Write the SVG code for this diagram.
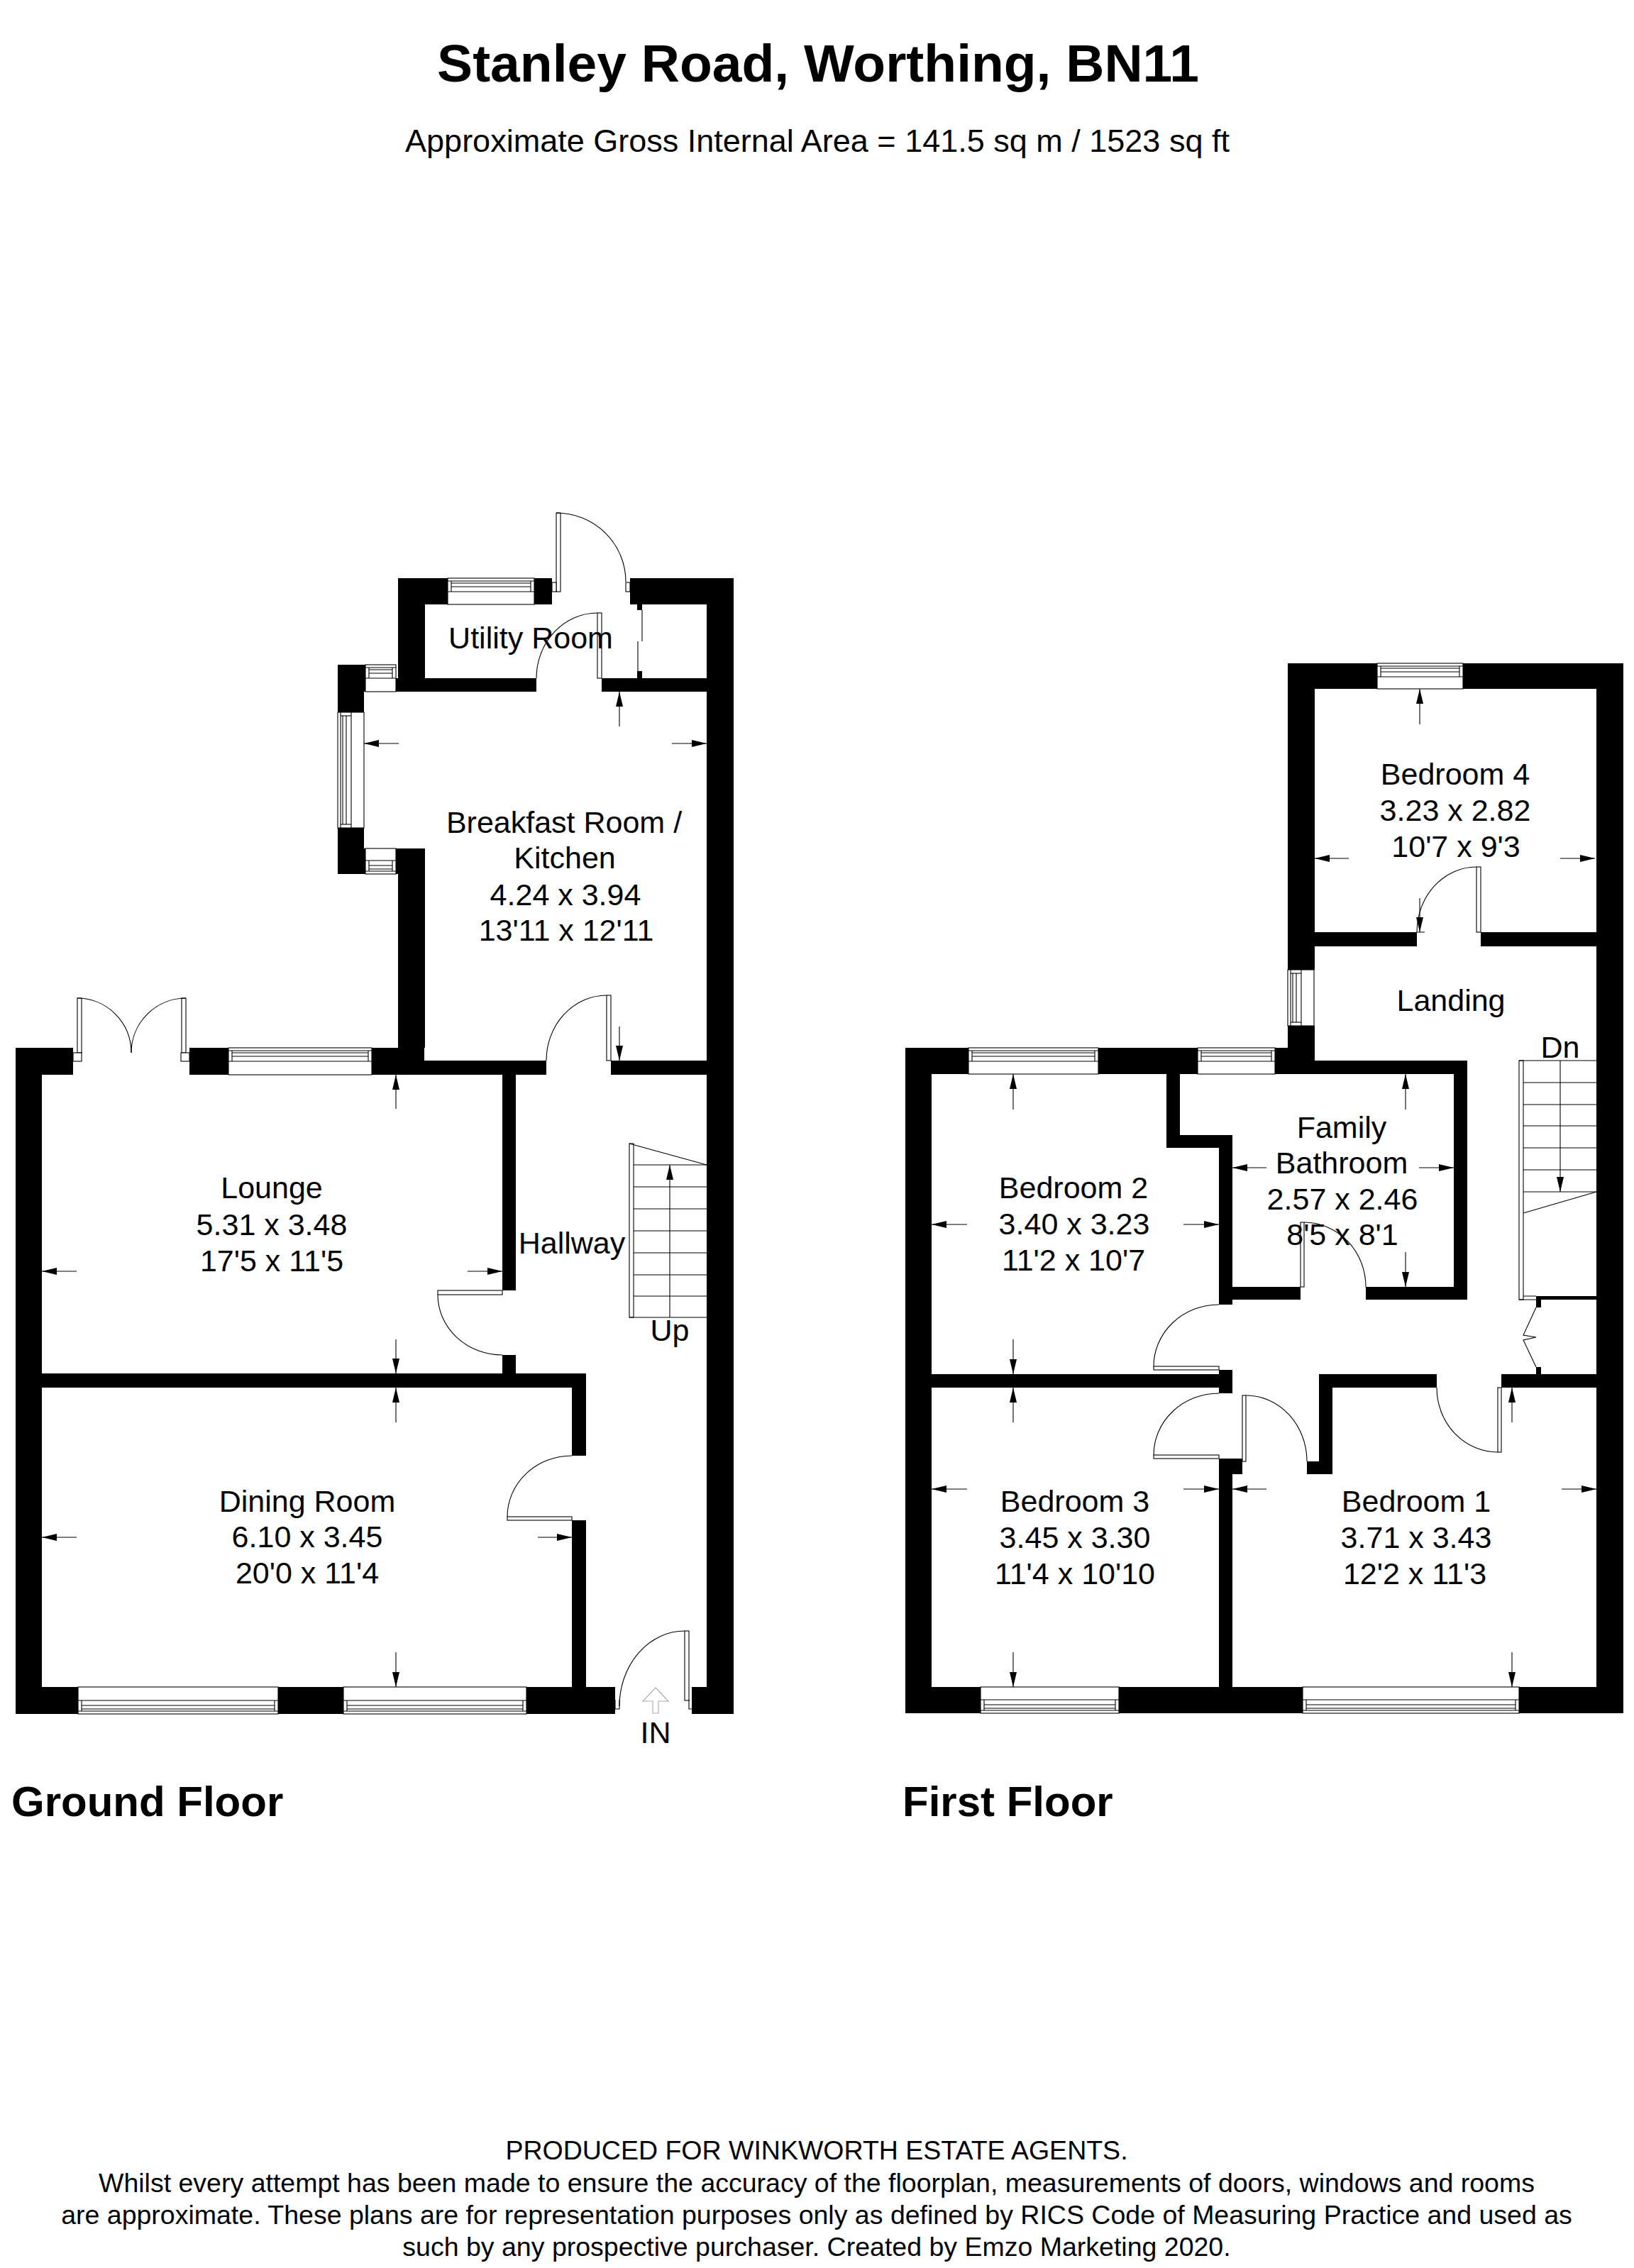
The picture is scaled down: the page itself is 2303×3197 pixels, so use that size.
<svg xmlns="http://www.w3.org/2000/svg" width="2303" height="3197" viewBox="0 0 2303 3197">
<style>
text{font-family:"Liberation Sans",Arial,sans-serif;fill:#000}
.r{font-size:43px;text-anchor:middle}
.f{font-size:37.5px;text-anchor:middle}
.h{font-size:60px;font-weight:bold}
.w rect{fill:#000}
.d rect,.win rect{fill:#fff;stroke:#000;stroke-width:1.1}
.d path{fill:none;stroke:#000;stroke-width:1.1}
.win line,.s line,.s path{stroke:#000;stroke-width:1.1;fill:none}
.s rect{fill:#fff;stroke:#000;stroke-width:1.1}
.dim line{stroke:#000;stroke-width:1.1;marker-end:url(#tip)}
</style>
<defs>
<marker id="tip" markerUnits="userSpaceOnUse" viewBox="0 0 21 10" refX="21" refY="5" markerWidth="21" markerHeight="10" orient="auto"><path d="M0 0L21 5L0 10Z" fill="#000"/></marker>
</defs>
<rect width="2303" height="3197" fill="#fff"/>
<text id="title" x="1153" y="115" text-anchor="middle" style="font-size:75px;font-weight:bold">Stanley Road, Worthing, BN11</text>
<text id="subtitle" x="1152" y="214" text-anchor="middle" style="font-size:45px">Approximate Gross Internal Area = 141.5 sq m / 1523 sq ft</text>

<g id="ground-walls" class="w">
<rect x="561" y="815" width="70" height="37"/><rect x="753" y="815" width="25" height="37"/><rect x="888" y="815" width="146" height="37"/>
<rect x="561" y="815" width="38" height="141"/><rect x="558" y="956" width="198" height="19"/><rect x="848" y="956" width="186" height="19"/>
<rect x="996" y="815" width="38" height="1601"/>
<rect x="898" y="852" width="7" height="8"/><rect x="898" y="946" width="7" height="10"/>
<rect x="476" y="937" width="39" height="38"/><rect x="476" y="975" width="37" height="29"/><rect x="476" y="1167" width="37" height="29"/><rect x="476" y="1196" width="39" height="36"/>
<rect x="558" y="1196" width="41" height="36"/><rect x="561" y="1232" width="38" height="245"/>
<rect x="524" y="1477" width="74" height="38"/><rect x="598" y="1495" width="172" height="20"/><rect x="861" y="1495" width="135" height="20"/>
<rect x="22" y="1477" width="81" height="38"/><rect x="267" y="1477" width="55" height="38"/><rect x="22" y="1477" width="37" height="939"/>
<rect x="708" y="1515" width="19" height="304"/><rect x="708" y="1910" width="19" height="26"/>
<rect x="22" y="1936" width="804" height="20"/><rect x="806" y="1956" width="20" height="96"/><rect x="806" y="2143" width="20" height="235"/>
<rect x="22" y="2378" width="88" height="38"/><rect x="392" y="2378" width="92" height="38"/><rect x="742" y="2378" width="125" height="38"/><rect x="975" y="2378" width="59" height="38"/>
</g>

<g id="ground-windows" class="win">
<g><rect x="631" y="815" width="122" height="37"/><line x1="631" y1="819" x2="753" y2="819"/><line x1="631" y1="834" x2="753" y2="834"/><line x1="636" y1="822" x2="748" y2="822"/><line x1="636" y1="827" x2="748" y2="827"/><line x1="636" y1="819" x2="636" y2="834"/><line x1="748" y1="819" x2="748" y2="834"/></g>
<g><rect x="515" y="937" width="43" height="38"/><line x1="515" y1="941" x2="558" y2="941"/><line x1="515" y1="956" x2="558" y2="956"/><line x1="520" y1="944" x2="553" y2="944"/><line x1="520" y1="949" x2="553" y2="949"/><line x1="520" y1="941" x2="520" y2="956"/><line x1="553" y1="941" x2="553" y2="956"/></g>
<g><rect x="515" y="1196" width="43" height="36"/><line x1="515" y1="1228" x2="558" y2="1228"/><line x1="515" y1="1213" x2="558" y2="1213"/><line x1="520" y1="1225" x2="553" y2="1225"/><line x1="520" y1="1220" x2="553" y2="1220"/><line x1="520" y1="1213" x2="520" y2="1228"/><line x1="553" y1="1213" x2="553" y2="1228"/></g>
<g><rect x="476" y="1004" width="37" height="163"/><line x1="480" y1="1004" x2="480" y2="1167"/><line x1="495" y1="1004" x2="495" y2="1167"/><line x1="483" y1="1009" x2="483" y2="1162"/><line x1="488" y1="1009" x2="488" y2="1162"/><line x1="480" y1="1009" x2="495" y2="1009"/><line x1="480" y1="1162" x2="495" y2="1162"/></g>
<g><rect x="322" y="1477" width="202" height="38"/><line x1="322" y1="1481" x2="524" y2="1481"/><line x1="322" y1="1496" x2="524" y2="1496"/><line x1="327" y1="1484" x2="519" y2="1484"/><line x1="327" y1="1489" x2="519" y2="1489"/><line x1="327" y1="1481" x2="327" y2="1496"/><line x1="519" y1="1481" x2="519" y2="1496"/></g>
<g><rect x="110" y="2378" width="282" height="38"/><line x1="110" y1="2412" x2="392" y2="2412"/><line x1="110" y1="2397" x2="392" y2="2397"/><line x1="115" y1="2409" x2="387" y2="2409"/><line x1="115" y1="2404" x2="387" y2="2404"/><line x1="115" y1="2397" x2="115" y2="2412"/><line x1="387" y1="2397" x2="387" y2="2412"/></g>
<g><rect x="484" y="2378" width="258" height="38"/><line x1="484" y1="2412" x2="742" y2="2412"/><line x1="484" y1="2397" x2="742" y2="2397"/><line x1="489" y1="2409" x2="737" y2="2409"/><line x1="489" y1="2404" x2="737" y2="2404"/><line x1="489" y1="2397" x2="489" y2="2412"/><line x1="737" y1="2397" x2="737" y2="2412"/></g>
</g>

<g id="ground-doors" class="d">
<rect x="784" y="723" width="6" height="111"/><rect x="778" y="821" width="6" height="13"/><rect x="882" y="821" width="6" height="13"/><path d="M784 723A98 97 0 0 1 882 820"/>
<rect x="842" y="864" width="6" height="92"/><path d="M842 864A86 92 0 0 0 756 956"/>
<path d="M905 860V904M899 904V946"/>
<rect x="855" y="1403" width="6" height="92"/><path d="M855 1403A85 92 0 0 0 770 1495"/>
<rect x="109" y="1407" width="6" height="77"/><rect x="103" y="1484" width="12" height="12"/><path d="M109 1407A76 77 0 0 1 185 1484"/>
<rect x="256" y="1407" width="6" height="77"/><rect x="255" y="1484" width="12" height="12"/><path d="M262 1407A77 77 0 0 0 185 1484"/>
<rect x="617" y="1819" width="91" height="6"/><path d="M617 1825A91 85 0 0 0 708 1910"/>
<rect x="715" y="2138" width="91" height="5"/><path d="M715 2138A91 86 0 0 1 806 2052"/>
<rect x="965" y="2299" width="6" height="98"/><path d="M965 2299A92 106 0 0 0 873 2405"/><path d="M867 2396V2409H873V2396M971 2396V2409H975"/>
</g>

<g id="ground-stairs" class="s">
<rect x="887" y="1612" width="6" height="245"/>
<path d="M887 1612L996 1642"/>
<line x1="893" y1="1642" x2="996" y2="1642"/><line x1="893" y1="1673" x2="996" y2="1673"/><line x1="893" y1="1704" x2="996" y2="1704"/><line x1="893" y1="1735" x2="996" y2="1735"/><line x1="893" y1="1766" x2="996" y2="1766"/><line x1="893" y1="1797" x2="996" y2="1797"/><line x1="893" y1="1827" x2="996" y2="1827"/><line x1="887" y1="1857" x2="996" y2="1857"/>
</g>
<path id="entrance-arrow" d="M924 2379L942 2398H928V2415H920V2398H906Z" fill="#fff" stroke="#aaa" stroke-width="1.1"/>

<g id="first-walls" class="w">
<rect x="1276" y="1477" width="89" height="37"/><rect x="1548" y="1477" width="140" height="37"/><rect x="1797" y="1477" width="56" height="37"/>
<rect x="1853" y="1495" width="215" height="19"/><rect x="1276" y="1477" width="37" height="938"/>
<rect x="1644" y="1514" width="19" height="104"/><rect x="1644" y="1600" width="93" height="18"/><rect x="1718" y="1618" width="19" height="221"/>
<rect x="1737" y="1814" width="96" height="18"/><rect x="1925" y="1814" width="143" height="18"/><rect x="2049" y="1495" width="19" height="337"/>
<rect x="1718" y="1931" width="19" height="33"/><rect x="1276" y="1937" width="461" height="19"/>
<rect x="1718" y="2056" width="33" height="22"/><rect x="1718" y="2078" width="19" height="300"/>
<rect x="1842" y="2060" width="36" height="18"/><rect x="1859" y="1937" width="19" height="123"/><rect x="1859" y="1937" width="166" height="19"/><rect x="2116" y="1937" width="172" height="19"/>
<rect x="2250" y="935" width="38" height="1480"/><rect x="2165" y="1827" width="85" height="5"/><rect x="2165" y="1832" width="7" height="11"/><rect x="2165" y="1927" width="7" height="10"/>
<rect x="1276" y="2378" width="106" height="37"/><rect x="1577" y="2378" width="259" height="37"/><rect x="2141" y="2378" width="147" height="37"/>
<rect x="1815" y="935" width="126" height="36"/><rect x="2062" y="935" width="226" height="36"/><rect x="1815" y="935" width="38" height="432"/>
<rect x="1815" y="1314" width="182" height="20"/><rect x="2087" y="1314" width="201" height="20"/><rect x="1815" y="1446" width="38" height="49"/>
</g>

<g id="first-windows" class="win">
<g><rect x="1941" y="935" width="121" height="36"/><line x1="1941" y1="939" x2="2062" y2="939"/><line x1="1941" y1="954" x2="2062" y2="954"/><line x1="1946" y1="942" x2="2057" y2="942"/><line x1="1946" y1="947" x2="2057" y2="947"/><line x1="1946" y1="939" x2="1946" y2="954"/><line x1="2057" y1="939" x2="2057" y2="954"/></g>
<g><rect x="1815" y="1367" width="37" height="79"/><line x1="1819" y1="1367" x2="1819" y2="1446"/><line x1="1834" y1="1367" x2="1834" y2="1446"/><line x1="1822" y1="1372" x2="1822" y2="1441"/><line x1="1827" y1="1372" x2="1827" y2="1441"/><line x1="1819" y1="1372" x2="1834" y2="1372"/><line x1="1819" y1="1441" x2="1834" y2="1441"/></g>
<g><rect x="1365" y="1477" width="183" height="37"/><line x1="1365" y1="1481" x2="1548" y2="1481"/><line x1="1365" y1="1496" x2="1548" y2="1496"/><line x1="1370" y1="1484" x2="1543" y2="1484"/><line x1="1370" y1="1489" x2="1543" y2="1489"/><line x1="1370" y1="1481" x2="1370" y2="1496"/><line x1="1543" y1="1481" x2="1543" y2="1496"/></g>
<g><rect x="1688" y="1477" width="109" height="37"/><line x1="1688" y1="1481" x2="1797" y2="1481"/><line x1="1688" y1="1496" x2="1797" y2="1496"/><line x1="1693" y1="1484" x2="1792" y2="1484"/><line x1="1693" y1="1489" x2="1792" y2="1489"/><line x1="1693" y1="1481" x2="1693" y2="1496"/><line x1="1792" y1="1481" x2="1792" y2="1496"/></g>
<g><rect x="1382" y="2378" width="195" height="37"/><line x1="1382" y1="2411" x2="1577" y2="2411"/><line x1="1382" y1="2396" x2="1577" y2="2396"/><line x1="1387" y1="2408" x2="1572" y2="2408"/><line x1="1387" y1="2403" x2="1572" y2="2403"/><line x1="1387" y1="2396" x2="1387" y2="2411"/><line x1="1572" y1="2396" x2="1572" y2="2411"/></g>
<g><rect x="1836" y="2378" width="305" height="37"/><line x1="1836" y1="2411" x2="2141" y2="2411"/><line x1="1836" y1="2396" x2="2141" y2="2396"/><line x1="1841" y1="2408" x2="2136" y2="2408"/><line x1="1841" y1="2403" x2="2136" y2="2403"/><line x1="1841" y1="2396" x2="1841" y2="2411"/><line x1="2136" y1="2396" x2="2136" y2="2411"/></g>
</g>

<g id="first-doors" class="d">
<rect x="2081" y="1222" width="6" height="92"/><path d="M2081 1222A84 92 0 0 0 1997 1314H2008"/>
<rect x="1833" y="1723" width="5" height="91"/><path d="M1838 1723A87 91 0 0 1 1925 1814"/>
<rect x="1626" y="1926" width="92" height="5"/><path d="M1718 1839A92 87 0 0 0 1626 1926"/>
<rect x="1626" y="2051" width="92" height="5"/><path d="M1718 1964A92 87 0 0 0 1626 2051"/>
<rect x="1751" y="1967" width="5" height="93"/><path d="M1756 1967A86 93 0 0 1 1842 2060"/>
<rect x="2111" y="1956" width="5" height="91"/><path d="M2025 1956A86 91 0 0 0 2111 2047"/>
<path d="M2165 1843L2147 1882L2165 1885L2147 1889L2165 1927"/>
</g>

<g id="first-stairs" class="s">
<rect x="2141" y="1495" width="6" height="337"/>
<line x1="2141" y1="1495" x2="2250" y2="1495"/><line x1="2147" y1="1526" x2="2250" y2="1526"/><line x1="2147" y1="1557" x2="2250" y2="1557"/><line x1="2147" y1="1587" x2="2250" y2="1587"/><line x1="2147" y1="1618" x2="2250" y2="1618"/><line x1="2147" y1="1649" x2="2250" y2="1649"/><line x1="2147" y1="1680" x2="2250" y2="1680"/>
<path d="M2147 1710L2250 1680"/>
<path d="M2141 1832H2165M2147 1827H2165"/>
</g>

<g id="connectors" class="dim">
<line x1="873" y1="1024" x2="873" y2="975"/><line x1="562" y1="1048" x2="513" y2="1048"/><line x1="947" y1="1048" x2="996" y2="1048"/><line x1="873" y1="1447" x2="873" y2="1495"/>
<line x1="558" y1="1563" x2="558" y2="1515"/><line x1="108" y1="1792" x2="59" y2="1792"/><line x1="659" y1="1792" x2="708" y2="1792"/><line x1="558" y1="1888" x2="558" y2="1936"/>
<line x1="558" y1="2005" x2="558" y2="1956"/><line x1="108" y1="2167" x2="59" y2="2167"/><line x1="758" y1="2167" x2="806" y2="2167"/><line x1="558" y1="2329" x2="558" y2="2378"/>
<line x1="944" y1="1857" x2="944" y2="1642"/>
<line x1="1428" y1="1564" x2="1428" y2="1514"/><line x1="1363" y1="1726" x2="1313" y2="1726"/><line x1="1668" y1="1726" x2="1718" y2="1726"/><line x1="1428" y1="1888" x2="1428" y2="1937"/>
<line x1="1428" y1="2005" x2="1428" y2="1956"/><line x1="1363" y1="2099" x2="1313" y2="2099"/><line x1="1668" y1="2099" x2="1718" y2="2099"/><line x1="1428" y1="2329" x2="1428" y2="2378"/>
<line x1="1785" y1="2099" x2="1737" y2="2099"/><line x1="2201" y1="2099" x2="2250" y2="2099"/><line x1="2131" y1="2005" x2="2131" y2="1956"/><line x1="2131" y1="2329" x2="2131" y2="2378"/>
<line x1="1785" y1="1646" x2="1737" y2="1646"/><line x1="2000" y1="1646" x2="2049" y2="1646"/><line x1="1981" y1="1564" x2="1981" y2="1514"/><line x1="1981" y1="1765" x2="1981" y2="1814"/>
<line x1="2001" y1="1021" x2="2001" y2="971"/><line x1="1901" y1="1210" x2="1853" y2="1210"/><line x1="2199" y1="1210" x2="2248" y2="1210"/><line x1="2001" y1="1266" x2="2001" y2="1314"/>
<line x1="2199" y1="1495" x2="2199" y2="1680"/>
</g>

<g id="ground-labels">
<text class="r" x="748" y="914">Utility Room</text>
<text class="r" x="795" y="1174">Breakfast Room /</text><text class="r" x="796" y="1224">Kitchen</text><text class="r" x="797" y="1276">4.24 x 3.94</text><text class="r" x="798" y="1326">13'11 x 12'11</text>
<text class="r" x="383" y="1689">Lounge</text><text class="r" x="383" y="1741">5.31 x 3.48</text><text class="r" x="383" y="1792">17'5 x 11'5</text>
<text class="r" x="433" y="2131">Dining Room</text><text class="r" x="433" y="2181">6.10 x 3.45</text><text class="r" x="433" y="2232">20'0 x 11'4</text>
<text class="r" x="806" y="1767">Hallway</text><text class="r" x="944" y="1890">Up</text><text class="r" x="924" y="2457">IN</text>
</g>
<g id="first-labels">
<text class="r" x="2051" y="1106">Bedroom 4</text><text class="r" x="2051" y="1157">3.23 x 2.82</text><text class="r" x="2052" y="1208">10'7 x 9'3</text>
<text class="r" x="2045" y="1425">Landing</text><text class="r" x="2199" y="1491">Dn</text>
<text class="r" x="1891" y="1604">Family</text><text class="r" x="1891" y="1654">Bathroom</text><text class="r" x="1892" y="1705">2.57 x 2.46</text><text class="r" x="1892" y="1755">8'5 x 8'1</text>
<text class="r" x="1513" y="1689">Bedroom 2</text><text class="r" x="1514" y="1740">3.40 x 3.23</text><text class="r" x="1513" y="1791">11'2 x 10'7</text>
<text class="r" x="1515" y="2131">Bedroom 3</text><text class="r" x="1515" y="2182">3.45 x 3.30</text><text class="r" x="1515" y="2233">11'4 x 10'10</text>
<text class="r" x="1996" y="2131">Bedroom 1</text><text class="r" x="1996" y="2182">3.71 x 3.43</text><text class="r" x="1994" y="2233">12'2 x 11'3</text>
</g>
<text class="h" x="16" y="2560">Ground Floor</text>
<text class="h" x="1272" y="2560">First Floor</text>
<g id="footer">
<text class="f" x="1151" y="3044">PRODUCED FOR WINKWORTH ESTATE AGENTS.</text>
<text class="f" x="1151" y="3090">Whilst every attempt has been made to ensure the accuracy of the floorplan, measurements of doors, windows and rooms</text>
<text class="f" x="1151" y="3135">are approximate. These plans are for representation purposes only as defined by RICS Code of Measuring Practice and used as</text>
<text class="f" x="1151" y="3180">such by any prospective purchaser. Created by Emzo Marketing 2020.</text>
</g>
</svg>
